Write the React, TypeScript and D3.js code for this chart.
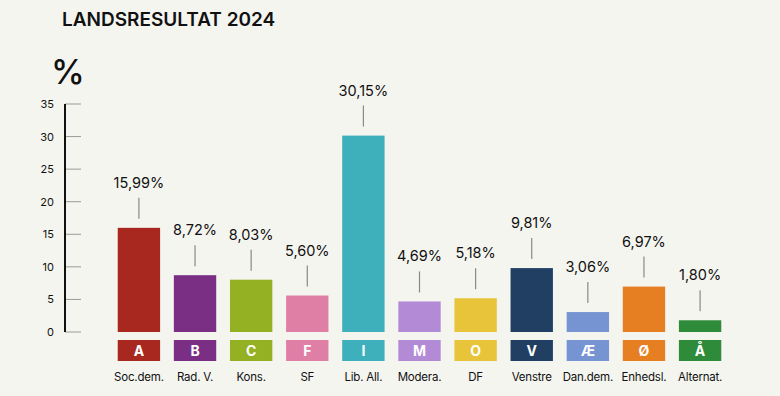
import * as d3 from 'd3'

const letters = ['A', 'B', 'C', 'F', 'I', 'M', 'O', 'V', 'Æ', 'Ø', 'Å']
const names = ['Soc.dem.', 'Rad. V.', 'Kons.', 'SF', 'Lib. All.', 'Modera.', 'DF', 'Venstre', 'Dan.dem.', 'Enhedsl.', 'Alternat.']
const values = [15.99, 8.72, 8.03, 5.6, 30.15, 4.69, 5.18, 9.81, 3.06, 6.97, 1.8]
const colors = ['#a8271f', '#7a2f85', '#94b023', '#e07fa6', '#3db0bb', '#b38ad6', '#e8c43a', '#213f63', '#7694d2', '#e67e22', '#2e8b3a']
const yTicks = [0, 5, 10, 15, 20, 25, 30, 35]

const W = 780
const H = 396
const font = 'Inter, "DejaVu Sans", sans-serif'

export default function App() {
  const x = d3.scaleBand<string>().domain(letters).range([111, 728]).paddingInner(0.245).paddingOuter(0.12)
  const y = d3.scaleLinear().domain([0, 35]).range([332, 104])
  const fmt = (v: number) => v.toFixed(2).replace('.', ',') + '%'

  return (
    <svg width={W} height={H} style={{ position: 'absolute', left: 0, top: 0, background: '#f5f5f0' }} fontFamily={font}>
      <rect width={W} height={H} fill="#f5f5f0" />
      <text x={62} y={26} fontSize={19} fontWeight={600} fill="#111">LANDSRESULTAT 2024</text>
      <text x={51} y={84} fontSize={34} fontWeight={500} fill="#111">%</text>

      {/* y axis */}
      {yTicks.map(t => (
        <g key={t}>
          <line x1={65} x2={81} y1={y(t)} y2={y(t)} stroke="#999" strokeWidth={1} />
          <text x={54} y={y(t) + 4} fontSize={11} textAnchor="end" fill="#111">{t}</text>
        </g>
      ))}
      <line x1={65} x2={65} y1={y(35)} y2={y(0)} stroke="#111" strokeWidth={2} />

      {letters.map((l, i) => {
        const bx = x(l) as number
        const bw = x.bandwidth()
        const cx = bx + bw / 2
        const top = y(values[i])
        return (
          <g key={l}>
            <rect x={bx} y={top} width={bw} height={y(0) - top} fill={colors[i]} />
            <line x1={cx} x2={cx} y1={top - 9} y2={top - 30} stroke="#888" strokeWidth={1.2} />
            <text x={cx} y={top - 40} fontSize={14.5} textAnchor="middle" fill="#111">{fmt(values[i])}</text>
            <rect x={bx} y={340} width={bw} height={21} fill={colors[i]} />
            <text x={cx} y={355.5} fontSize={14} fontWeight={700} textAnchor="middle" fill="#fff">{l}</text>
            <text x={cx} y={381} fontSize={11.5} textAnchor="middle" fill="#111" letterSpacing={-0.2}>{names[i]}</text>
          </g>
        )
      })}
    </svg>
  )
}
